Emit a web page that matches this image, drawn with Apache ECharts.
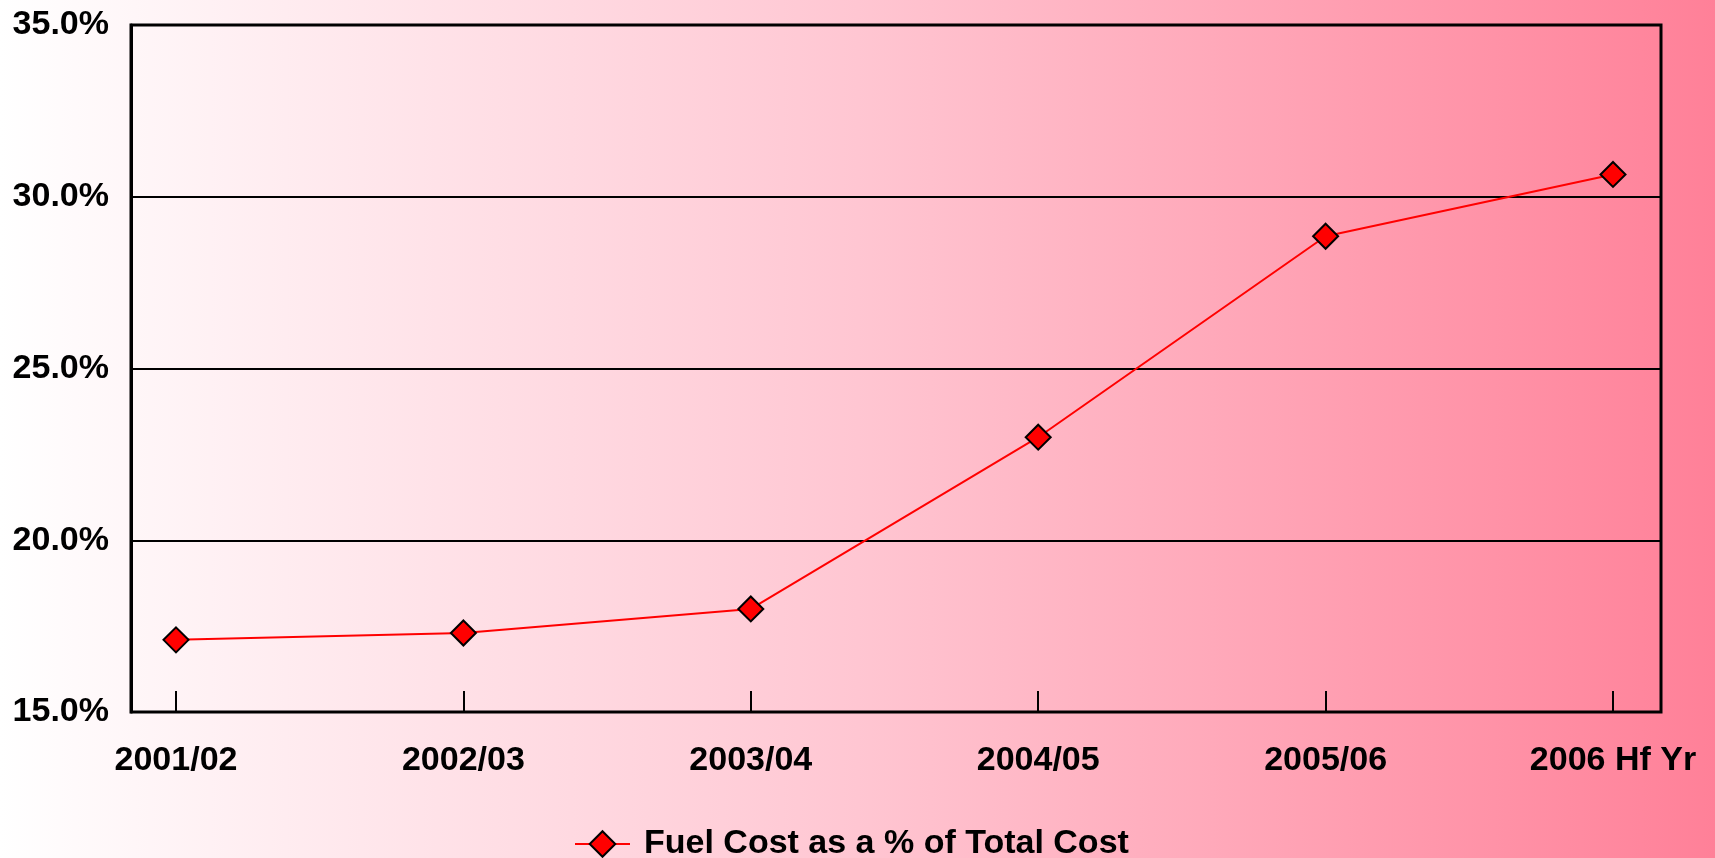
<!DOCTYPE html>
<html>
<head>
<meta charset="utf-8">
<script src="https://cdn.jsdelivr.net/npm/echarts@6/dist/echarts.min.js"></script>
<style>
html,body{margin:0;padding:0;}
#c{width:1715px;height:858px;}
</style>
</head>
<body>
<div id="c"></div>
<script>
var categories = ['2001/02', '2002/03', '2003/04', '2004/05', '2005/06', '2006 Hf Yr'];
var fuelCostPct = [17.1, 17.3, 18.0, 23.0, 28.85, 30.65];
var seriesName = 'Fuel Cost as a % of Total Cost';
var yTicks = [15, 20, 25, 30, 35];

var chart = echarts.init(document.getElementById('c'), null, {renderer: 'canvas'});
var font = '"Liberation Sans", Arial, sans-serif';
chart.setOption({
  backgroundColor: {
    type: 'linear', x: 0, y: 0, x2: 1, y2: 0,
    colorStops: [
      {offset: 0, color: '#ffffff'},
      {offset: 0.5, color: '#ffc6d2'},
      {offset: 1, color: '#ff8098'}
    ]
  },
  animation: false,
  grid: [
    {left: 131, right: 54, top: 25, bottom: 146, show: true, borderColor: '#000', borderWidth: 3, backgroundColor: 'transparent'},
    {left: 176, right: 102, top: 25, bottom: 146}
  ],
  legend: {
    data: [seriesName],
    left: 569, top: 822,
    itemWidth: 55, itemHeight: 32, itemGap: 10,
    textStyle: {fontFamily: font, fontWeight: 'bold', fontSize: 34, color: '#000', padding: [5, 0, 0, 9]}
  },
  xAxis: [
    {gridIndex: 0, type: 'value', min: 0, max: 1, show: false},
    {
      gridIndex: 1, type: 'category', data: categories, boundaryGap: false,
      axisLine: {show: false},
      axisTick: {show: true, inside: true, length: 21, lineStyle: {color: '#000', width: 2}},
      axisLabel: {margin: 32, color: '#000', fontFamily: font, fontWeight: 'bold', fontSize: 34, interval: 0},
      splitLine: {show: false}
    }
  ],
  yAxis: [
    {
      gridIndex: 0, type: 'value', min: yTicks[0], max: yTicks[yTicks.length - 1], interval: 5,
      axisLine: {show: true, lineStyle: {color: '#000', width: 3}},
      axisTick: {show: false},
      axisLabel: {margin: 22, color: '#000', fontFamily: font, fontWeight: 'bold', fontSize: 34,
        formatter: function (v) { return v.toFixed(1) + '%'; }},
      splitLine: {show: true, lineStyle: {color: '#000', width: 2}}
    },
    {gridIndex: 1, type: 'value', min: yTicks[0], max: yTicks[yTicks.length - 1], show: false}
  ],
  series: [{
    name: seriesName, type: 'line', xAxisIndex: 1, yAxisIndex: 1,
    data: fuelCostPct,
    symbol: 'diamond', symbolSize: 25,
    itemStyle: {color: '#ff0000', borderColor: '#000', borderWidth: 2},
    lineStyle: {color: '#ff0000', width: 2}
  }]
});
</script>
</body>
</html>
